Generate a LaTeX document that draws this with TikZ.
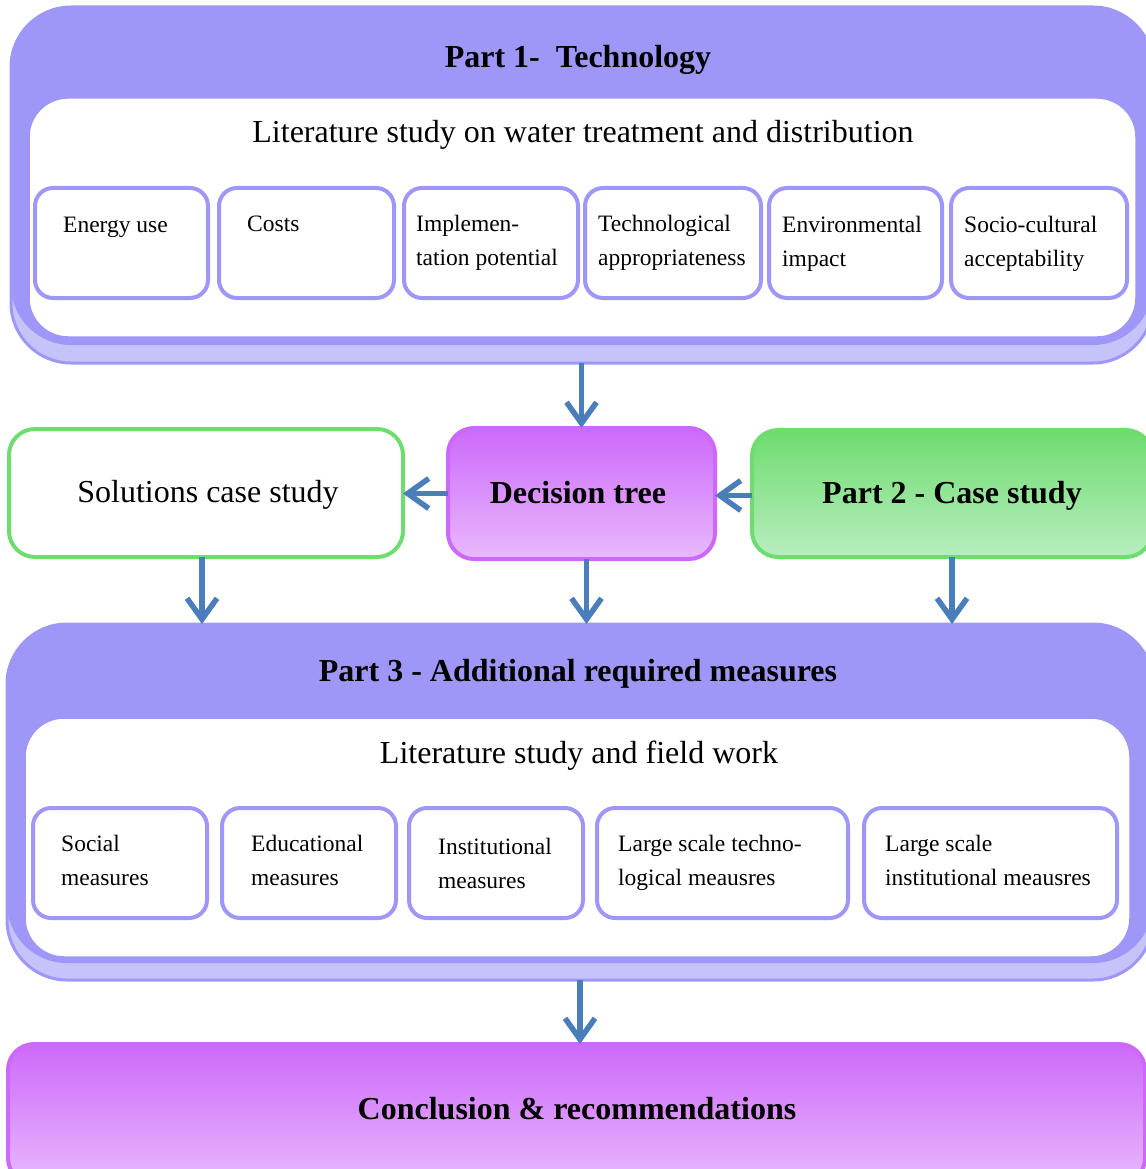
\documentclass[tikz,border=0pt]{standalone}
\usepackage{fontspec}
\setmainfont{Liberation Serif}
\usetikzlibrary{arrows.meta,calc}
\definecolor{lav}{HTML}{9F97F7}
\definecolor{lavl}{HTML}{C6C2FA}
\definecolor{arrblue}{HTML}{4A7EBB}
\definecolor{grn}{HTML}{6EDC6E}
\definecolor{grnl}{HTML}{B8EEC0}
\definecolor{mag}{HTML}{CD69FA}
\definecolor{magl}{HTML}{E8B9FC}
\begin{document}
\begin{tikzpicture}[x=1pt,y=-1pt,
  nw/.style={anchor=north west, inner sep=0pt, outer sep=0pt},
  outerpart/.style={nw, draw=lav, fill=lavl, line width=3pt, rounded corners=60pt},
  darkpart/.style={nw, fill=lav, rounded corners=60pt},
  innerpart/.style={nw, draw=lav, fill=white, line width=3.5pt, rounded corners=40pt},
  sbox/.style={nw, draw=lav, fill=white, line width=4pt, rounded corners=18pt},
  stext/.style={anchor=base west, inner sep=0pt, font=\fontsize{23.5}{34}\selectfont},
  bigtext/.style={inner sep=0pt, font=\fontsize{32}{38}\selectfont},
  bigbold/.style={inner sep=0pt, font=\bfseries\fontsize{32}{38}\selectfont},
  magbox/.style={nw, draw=mag, line width=4pt, top color=mag, bottom color=magl, rounded corners=26pt},
  arr/.style={draw=arrblue, line width=5.5pt, -{Straight Barb[length=21pt,width=30pt]}}
]
\useasboundingbox (0,0) rectangle (1145,1169);

% ---------- Part 1 ----------
\node[outerpart, minimum width=1142pt, minimum height=356pt] (p1) at (11,7) {};
\node[darkpart, minimum width=1142pt, minimum height=338pt] (p1dark) at (11,7) {};
\node[innerpart, minimum width=1109pt, minimum height=241pt] (p1in) at (28,97) {};
\node[bigbold] (p1title) at (578,60) {Part 1-\ \ Technology};
\node[bigtext] (p1sub) at (583,135) {Literature study on water treatment and distribution};

\node[sbox, minimum width=173pt, minimum height=110pt] (a1) at (35,188) {};
\node[sbox, minimum width=175pt, minimum height=110pt] (a2) at (219,188) {};
\node[sbox, minimum width=174pt, minimum height=110pt] (a3) at (404,188) {};
\node[sbox, minimum width=176pt, minimum height=110pt] (a4) at (585,188) {};
\node[sbox, minimum width=173pt, minimum height=110pt] (a5) at (769,188) {};
\node[sbox, minimum width=176pt, minimum height=110pt] (a6) at (951,188) {};

\node[stext] (a1t) at (63,232) {Energy use};
\node[stext] (a2t) at (247,231) {Costs};
\node[stext] (a3t) at (416,231) {\parbox[t]{200pt}{Implemen-\\tation potential}};
\node[stext] (a4t) at (598,231) {\parbox[t]{200pt}{Technological\\appropriateness}};
\node[stext] (a5t) at (782,232) {\parbox[t]{200pt}{Environmental\\impact}};
\node[stext] (a6t) at (964,232) {\parbox[t]{200pt}{Socio-cultural\\acceptability}};

% ---------- middle row ----------
\node[nw, draw=grn, fill=white, line width=4pt, rounded corners=26pt,
      minimum width=394pt, minimum height=128pt] (sol) at (9,429) {};
\node[bigtext] (solt) at (208,495) {Solutions case study};

\node[magbox, minimum width=267pt, minimum height=131pt] (dt) at (448,428) {};
\node[bigbold] (dtt) at (578,493) {Decision tree};

\node[nw, draw=grn, line width=4pt, top color=grn, bottom color=grnl, rounded corners=26pt,
      minimum width=400pt, minimum height=127pt] (p2) at (752,430) {};
\node[bigbold] (p2t) at (952,496) {Part 2 - Case study};

% ---------- Part 3 ----------
\node[outerpart, minimum width=1146pt, minimum height=356pt] (p3) at (7,624) {};
\node[darkpart, minimum width=1146pt, minimum height=339pt] (p3dark) at (7,624) {};
\node[innerpart, minimum width=1107pt, minimum height=241pt] (p3in) at (24,717) {};
\node[bigbold] (p3title) at (578,674) {Part 3 - Additional required measures};
\node[bigtext] (p3sub) at (579,756) {Literature study and field work};

\node[sbox, minimum width=174pt, minimum height=110pt] (c1) at (33,808) {};
\node[sbox, minimum width=174pt, minimum height=110pt] (c2) at (222,808) {};
\node[sbox, minimum width=174pt, minimum height=110pt] (c3) at (409,808) {};
\node[sbox, minimum width=251pt, minimum height=110pt] (c4) at (597,808) {};
\node[sbox, minimum width=253pt, minimum height=110pt] (c5) at (864,808) {};

\node[stext] (c1t) at (61,851) {\parbox[t]{200pt}{Social\\measures}};
\node[stext] (c2t) at (251,851) {\parbox[t]{200pt}{Educational\\measures}};
\node[stext] (c3t) at (438,854) {\parbox[t]{200pt}{Institutional\\measures}};
\node[stext] (c4t) at (618,851) {\parbox[t]{250pt}{Large scale techno-\\logical meausres}};
\node[stext] (c5t) at (885,851) {\parbox[t]{250pt}{Large scale\\institutional meausres}};

% ---------- Conclusion ----------
\node[magbox, minimum width=1137pt, minimum height=140pt] (con) at (8,1044) {};
\node[bigbold] (cont) at (577,1109) {Conclusion \& recommendations};

% ---------- arrows ----------
\draw[arr] (p1.south -| dt.north) -- (dt.north);
\draw[arr] (dt.west) -- (dt.west -| sol.east);
\draw[arr] ([yshift=-2pt]p2.west) -- ([yshift=-2pt]p2.west -| dt.east);
\draw[arr] ([xshift=-4pt]sol.south) -- ([xshift=-4pt]sol.south |- p3.north);
\draw[arr] ([xshift=5pt]dt.south) -- ([xshift=5pt]dt.south |- p3.north);
\draw[arr] (p2.south) -- (p2.south |- p3.north);
\draw[arr] (p3.south) -- (p3.south |- con.north);
\end{tikzpicture}
\end{document}
